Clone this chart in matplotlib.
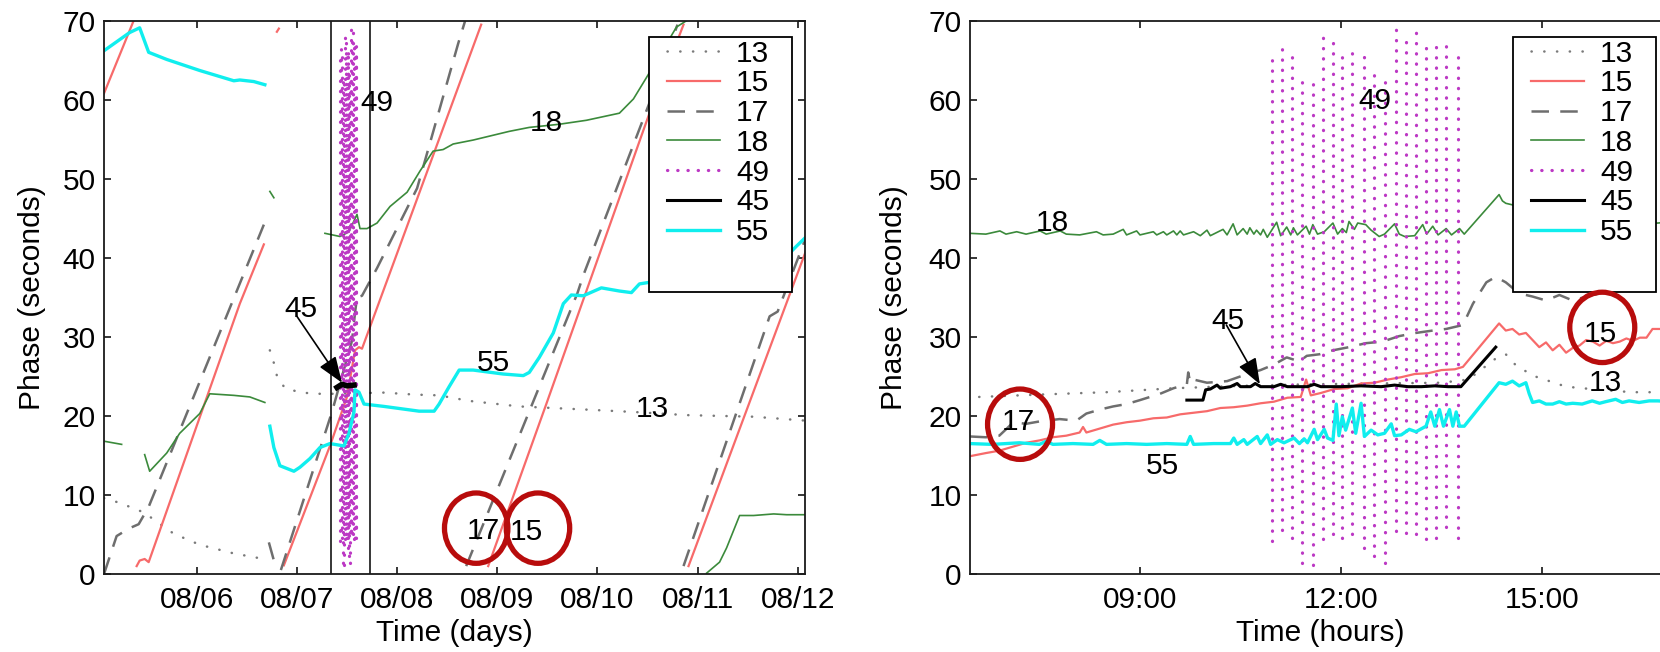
import numpy as np
import matplotlib
matplotlib.use("Agg")
import matplotlib.pyplot as plt
from matplotlib.patches import Ellipse, Rectangle

gap = np.nan

# ---- left panel: time in days of August ----
L13_day = [5.074, 5.23, 5.47, 5.67, 5.77, 6.03, 6.37, 6.67, gap,
           6.73, 6.77, 6.80, 6.88, 7.03, 7.17, 7.37, 7.87, 8.17, 8.42, 8.72,
           9.22, 9.89, 10.36, 10.89, 11.56, 12.08]
L13_val = [9.6, 9.0, 7.8, 6.0, 5.1, 3.7, 2.6, 1.9, gap,
           28.3, 26.7, 25.1, 23.5, 23.0, 22.8, 22.8, 22.95, 22.7, 22.6, 21.9,
           21.2, 20.8, 20.5, 20.1, 19.9, 19.4]

L15_day = [5.074, 5.37, gap, 5.40, 5.43, 5.48, 5.52, 6.43, 6.67, gap,
           6.80, 6.82, gap, 6.87, 7.33, 7.50, 7.58, 7.62, 7.65, 8.84, gap,
           8.91, 9.49, 10.52, 10.86, gap, 10.91, 12.08]
L15_val = [60.8, 70.0, gap, 1.0, 1.7, 1.9, 1.5, 34.2, 41.7, gap,
           68.6, 69.0, gap, 1.1, 16.2, 22.4, 28.3, 28.7, 28.5, 69.5, gap,
           1.0, 21.5, 58.3, 69.5, gap, 1.0, 40.8]

L17_day = [5.074, 5.20, 5.33, 5.42, 5.52, 6.67, gap, 6.72, 6.79, gap,
           6.84, 7.35, 7.55, 7.58, 7.60, 7.65, 7.80, 8.20, 8.27, 8.61, 8.68, gap,
           8.69, 9.80, 9.86, 10.52, 10.80, gap, 10.86, 11.72, 11.80, 12.08]
L17_val = [0.0, 4.8, 5.8, 6.3, 8.5, 44.2, gap, 4.0, 0.8, gap,
           0.5, 20.5, 29.5, 33.0, 35.0, 35.2, 38.7, 48.8, 51.9, 67.1, 70.0, gap,
           1.0, 35.5, 37.8, 59.6, 69.5, gap, 1.0, 32.6, 33.2, 42.5]

L18_day = [5.074, 5.25, gap, 5.48, 5.53, 5.70, 5.83, 6.03, 6.13, 6.37, 6.53, 6.68, gap,
           6.73, 6.77, gap,
           7.28, 7.43, 7.52, 7.60, 7.63, 7.70, 7.80, 7.93, 8.10, 8.23, 8.36, 8.46,
           8.56, 8.76, 9.12, 9.32, 9.62, 9.89, 10.22, 10.36, 10.49, 10.79, 10.89, gap,
           11.09, 11.22, 11.29, 11.42, 11.56, 11.76, 11.89, 12.08]
L18_val = [16.8, 16.4, gap, 15.1, 13.0, 15.3, 17.8, 20.3, 22.8, 22.6, 22.4, 21.7, gap,
           48.4, 47.6, gap,
           43.1, 42.7, 43.3, 45.5, 43.7, 43.7, 44.4, 46.5, 48.3, 51.0, 53.5, 53.7,
           54.4, 54.9, 56.0, 56.5, 56.9, 57.4, 58.3, 60.1, 62.8, 69.2, 70.0, gap,
           0.1, 1.5, 3.3, 7.4, 7.4, 7.6, 7.5, 7.5]

# station 49: columns of dots (same samples as the right panel)
L49_day = [7.435, 7.444, 7.453, 7.462, 7.471, 7.480, 7.489, 7.498, 7.507, 7.515,
           7.524, 7.533, 7.542, 7.551, 7.560, 7.569, 7.578, 7.587, 7.595]

L45_day = [7.40, 7.45, 7.50, 7.57]
L45_val = [23.6, 24.0, 23.8, 23.9]

L55_day = [5.074, 5.33, 5.43, 5.52, 5.70, 6.03, 6.37, 6.43, 6.57, 6.68, gap,
           6.73, 6.77, 6.83, 6.97, 7.03, 7.13, 7.23, 7.33, 7.47, 7.52, 7.57, 7.58,
           7.62, 7.67, 7.87, 8.22, 8.37, 8.42, 8.52, 8.62, 8.76, 9.06, 9.26, 9.32,
           9.42, 9.56, 9.66, 9.74, 9.86, 10.04, 10.22, 10.34, 10.42, 10.52, 11.00,
           11.92, 11.99, 12.08]
L55_val = [66.2, 68.5, 69.1, 66.0, 65.1, 63.7, 62.4, 62.5, 62.3, 61.9, gap,
           18.7, 16.0, 13.7, 13.0, 13.5, 14.6, 16.0, 16.5, 16.2, 17.8, 20.5, 23.3,
           23.0, 21.5, 21.2, 20.6, 20.6, 21.5, 23.7, 25.8, 25.8, 25.3, 25.1, 25.5,
           27.4, 30.5, 34.2, 35.3, 35.2, 36.2, 35.8, 35.6, 36.7, 36.9, 38.5,
           40.6, 41.5, 42.6]

window_days = [7.343, 7.733]
day_ticks = [6, 7, 8, 9, 10, 11, 12]
day_labels = ["08/06", "08/07", "08/08", "08/09", "08/10", "08/11", "08/12"]

# ---- right panel: time in hours ----
R13_hour = [6.6, 7.5, 8.5, 9.5, 10.5, 11.5, 12.5, 13.5, 13.9, 14.3, 14.46, 14.6,
            14.86, 15.36, 15.86, 16.35, 16.95]
R13_val = [22.4, 22.7, 23.0, 23.5, 23.8, 24.0, 24.1, 24.2, 24.6, 27.2, 27.8, 26.5,
           25.1, 23.7, 23.3, 23.0, 23.0]

R15_hour = [6.46, 6.7, 6.9, 7.1, 7.3, 7.5, 7.7, 7.9, 8.1, 8.15, 8.2, 8.4, 8.6, 8.8,
            9.0, 9.2, 9.4, 9.6, 9.8, 10.0, 10.2, 10.4, 10.6, 10.8, 11.0, 11.2, 11.4,
            11.48, 11.55, 11.7, 11.9, 12.1, 12.3, 12.5, 12.7, 12.9, 13.1, 13.3, 13.5,
            13.7, 13.82, 14.36, 14.46, 14.56, 14.66, 14.76, 14.86, 14.96, 15.06,
            15.16, 15.26, 15.36, 15.46, 15.56, 15.66, 15.76, 15.86, 15.96, 16.06,
            16.16, 16.26, 16.36, 16.46, 16.56, 16.65, 16.8, 16.95]
R15_val = [14.9, 15.3, 15.6, 16.1, 16.6, 16.9, 17.3, 17.5, 17.9, 18.6, 17.9, 18.4,
           18.9, 19.2, 19.4, 19.7, 19.8, 20.2, 20.4, 20.6, 21.0, 21.1, 21.3, 21.6,
           21.8, 22.3, 22.4, 24.6, 22.6, 22.9, 23.4, 23.5, 24.1, 24.2, 24.6, 24.9,
           25.3, 25.4, 25.8, 25.9, 26.2, 31.7, 30.8, 31.0, 30.3, 30.5, 29.6, 28.7,
           29.3, 28.3, 29.0, 28.0, 28.6, 28.9, 29.6, 29.4, 28.9, 29.5, 29.2, 29.4,
           29.8, 29.5, 29.9, 29.9, 31.0, 31.0, 30.8]

R17_hour = [6.46, 6.7, 6.9, 7.0, 7.11, 7.3, 7.5, 7.8, 8.05, 8.2, 8.4, 8.6, 8.8, 9.0,
            9.3, 9.5, 9.7, 9.72, 9.75, 9.8, 10.0, 10.3, 10.6, 10.8, 11.0, 11.19,
            11.38, 11.49, 11.68, 11.88, 12.12, 12.37, 12.62, 12.87, 13.12, 13.37,
            13.57, 13.82, 13.97, 14.17, 14.31, 14.46, 14.66, 14.86, 15.06, 15.26,
            15.46, 15.66, 15.86, 16.1, 16.4, 16.7, 16.95]
R17_val = [17.4, 17.3, 17.5, 18.3, 19.2, 19.0, 19.3, 19.6, 19.4, 20.3, 20.8, 21.2,
           21.5, 22.0, 22.8, 23.5, 24.0, 25.5, 24.2, 24.6, 24.2, 24.4, 25.3, 25.8,
           26.5, 27.4, 26.9, 27.6, 27.8, 28.3, 28.7, 29.2, 29.4, 30.1, 30.5, 30.8,
           31.0, 31.5, 34.2, 36.9, 37.6, 36.9, 35.5, 35.1, 34.6, 35.3, 34.6, 35.1,
           35.5, 35.8, 36.5, 37.4, 37.8]

R18_hour = [6.46, 6.7, 6.91, 7.0, 7.16, 7.3, 7.51, 7.6, 7.81, 7.9, 8.1, 8.35, 8.45,
            8.6, 8.75, 8.8, 8.95, 9.0, 9.2, 9.25, 9.35, 9.4, 9.5, 9.55, 9.6, 9.65,
            9.8, 9.9, 10.0, 10.05, 10.24, 10.3, 10.39, 10.45, 10.54, 10.6, 10.64,
            10.7, 10.74, 10.8, 10.84, 10.9, 11.04, 11.1, 11.19, 11.25, 11.29, 11.35,
            11.48, 11.53, 11.58, 11.65, 11.75, 11.88, 11.95, 12.02, 12.08, 12.12,
            12.2, 12.25, 12.37, 12.45, 12.57, 12.65, 12.8, 12.87, 12.95, 13.1, 13.22,
            13.28, 13.37, 13.45, 13.57, 13.65, 13.77, 13.84, 14.36, 14.41, 14.46,
            14.56, 14.8, 15.2, 15.6, 16.0, 16.4, 16.73, 16.95]
R18_val = [43.1, 43.0, 43.4, 43.0, 43.3, 43.0, 43.4, 43.0, 43.4, 43.0, 42.9, 43.3,
           42.9, 43.0, 43.6, 42.9, 43.4, 42.9, 43.3, 42.9, 43.3, 42.9, 43.4, 42.9,
           43.4, 42.9, 43.3, 42.8, 43.5, 42.8, 43.6, 42.9, 44.3, 42.9, 43.7, 43.0,
           43.8, 43.0, 43.5, 42.9, 43.6, 42.6, 44.5, 42.8, 43.9, 42.9, 43.8, 42.9,
           44.0, 43.0, 44.2, 43.0, 43.3, 44.4, 43.0, 43.7, 43.2, 44.6, 43.6, 44.4,
           44.2, 43.5, 42.7, 43.0, 44.3, 43.0, 42.7, 42.8, 44.2, 43.0, 44.0, 42.9,
           43.7, 42.9, 43.7, 43.0, 48.0, 47.2, 46.9, 46.7, 45.5, 44.8, 44.6, 44.5,
           44.4, 44.4, 44.6]

R49_hour = [10.97, 11.12, 11.27, 11.42, 11.58, 11.73, 11.88, 12.02, 12.17, 12.35,
            12.50, 12.65, 12.82, 12.97, 13.12, 13.27, 13.42, 13.57, 13.74]
R49_low = [4.2, 5.6, 4.5, 1.4, 1.2, 4.4, 5.0, 4.6, 5.0, 3.3,
           2.3, 1.4, 5.5, 5.2, 5.0, 4.4, 4.6, 6.0, 4.6]
R49_high = [65.3, 67.3, 66.3, 63.4, 62.5, 69.1, 67.3, 66.3, 65.9, 65.5,
            63.5, 63.4, 69.5, 68.4, 68.8, 67.6, 66.9, 67.6, 66.3]

R45_hour = [9.70, 9.94, 9.98, 10.05, 10.15, 10.2, 10.35, 10.45, 10.5, 10.65, 10.72,
            10.8, 11.0, 11.1, 11.2, 11.5, 11.6, 11.7, 12.0, 12.3, 12.6, 12.8, 13.0,
            13.2, 13.4, 13.6, 13.79, 14.31]
R45_val = [22.0, 22.0, 23.3, 23.4, 23.9, 23.5, 23.7, 24.1, 23.7, 23.7, 24.1,
           23.7, 23.7, 24.0, 23.7, 23.7, 24.0, 23.7, 23.7, 23.8, 23.7, 23.9, 23.7,
           23.7, 23.8, 23.7, 23.7, 28.7]

R55_hour = [6.46, 6.8, 7.2, 7.5, 7.6, 7.7, 8.0, 8.3, 8.4, 8.5, 8.8, 9.1, 9.4, 9.7,
            9.75, 9.8, 10.1, 10.35, 10.4, 10.45, 10.55, 10.6, 10.75, 10.8, 10.9,
            10.95, 11.05, 11.15, 11.3, 11.38, 11.45, 11.5, 11.6, 11.65, 11.75, 11.8,
            11.88, 11.93, 11.97, 12.02, 12.07, 12.17, 12.22, 12.3, 12.35, 12.45,
            12.55, 12.65, 12.75, 12.8, 12.9, 13.02, 13.12, 13.27, 13.34, 13.4, 13.47,
            13.53, 13.62, 13.67, 13.72, 13.77, 13.84, 14.36, 14.46, 14.56, 14.66,
            14.76, 14.81, 14.86, 14.96, 15.06, 15.16, 15.26, 15.36, 15.46, 15.6,
            15.75, 15.86, 15.95, 16.1, 16.2, 16.3, 16.45, 16.6, 16.73, 16.95]
R55_val = [16.5, 16.4, 16.6, 16.4, 16.8, 16.4, 16.5, 16.4, 16.9, 16.4, 16.5, 16.4,
           16.5, 16.4, 17.4, 16.4, 16.5, 16.5, 17.2, 16.4, 17.0, 16.4, 17.4, 16.5,
           17.6, 16.4, 17.0, 16.6, 17.2, 16.5, 17.1, 16.6, 18.3, 17.0, 18.3, 17.2,
           16.9, 21.5, 17.5, 19.9, 18.2, 21.0, 17.8, 21.6, 17.4, 18.2, 17.6, 17.8,
           19.0, 17.5, 17.6, 18.3, 18.0, 18.7, 20.5, 18.7, 20.8, 18.7, 20.8, 18.7,
           20.5, 18.7, 18.7, 24.2, 24.0, 24.4, 23.8, 24.2, 22.8, 21.7, 21.9, 21.5,
           21.5, 21.8, 21.5, 21.6, 21.5, 21.9, 21.6, 21.8, 22.1, 21.7, 21.9, 21.7,
           21.9, 21.9, 21.8]

hour_ticks = [9, 12, 15]
hour_labels = ["09:00", "12:00", "15:00"]

names = ["13", "15", "17", "18", "49", "45", "55"]
styles = {
    "13": dict(color="#7a7a7a", lw=1.8, ls=(0, (0.1, 5.0))),
    "15": dict(color="#f76a6a", lw=1.6, ls="-"),
    "17": dict(color="#6e6e6e", lw=1.8, ls=(0, (7, 4.5))),
    "18": dict(color="#3b8a3b", lw=1.2, ls="-"),
    "49": dict(color="#bc38c4", lw=2.3, ls=(0, (0.1, 3.1))),
    "45": dict(color="black", lw=2.2, ls="-"),
    "55": dict(color="#10eeee", lw=2.4, ls="-"),
}

plt.rcParams["font.family"] = ["Liberation Sans", "DejaVu Sans"]
plt.rcParams["font.size"] = 21.5
FS = 21.5
RING = "#b80c0c"

fig = plt.figure(figsize=(16.6, 6.52), dpi=100)
ax1 = fig.add_axes([104 / 1660, 78 / 652, 701 / 1660, 553.3 / 652])
ax2 = fig.add_axes([970 / 1660, 78 / 652, 701 / 1660, 553.3 / 652])

left = {"13": (L13_day, L13_val), "15": (L15_day, L15_val), "17": (L17_day, L17_val),
        "18": (L18_day, L18_val), "49": (L49_day, R49_low, R49_high),
        "45": (L45_day, L45_val), "55": (L55_day, L55_val)}
right = {"13": (R13_hour, R13_val), "15": (R15_hour, R15_val), "17": (R17_hour, R17_val),
         "18": (R18_hour, R18_val), "49": (R49_hour, R49_low, R49_high),
         "45": (R45_hour, R45_val), "55": (R55_hour, R55_val)}


def draw(ax, series, thick45=False):
    handles = []
    for n in names:
        st = styles[n]
        round_caps = n in ("13", "49")
        if n == "49":
            x, lo, hi = series[n]
            ax.vlines(x, lo, hi, colors=st["color"], linewidths=st["lw"],
                      linestyles=[st["ls"]], capstyle="round")
            h, = ax.plot([], [], color=st["color"], lw=st["lw"], ls=st["ls"],
                         dash_capstyle="round", label=n)
        else:
            x, y = series[n]
            lw = 4.0 if (n == "45" and thick45) else st["lw"]
            h, = ax.plot(x, y, color=st["color"], lw=lw, ls=st["ls"], label=n,
                         dash_capstyle="round" if round_caps else "butt")
        handles.append(h)
    return handles


def legend_box(ax, handles, x_handle, x_box):
    ax.add_patch(Rectangle((x_box, 0.510), 0.204, 0.461, transform=ax.transAxes,
                           facecolor="white", edgecolor="black", lw=1.3, zorder=5))
    leg = ax.legend(handles=handles, loc="upper left", bbox_to_anchor=(x_handle, 0.966),
                    bbox_transform=ax.transAxes, frameon=False, borderpad=0,
                    borderaxespad=0, handlelength=1.77, handletextpad=0.55,
                    labelspacing=0.06, fontsize=FS)
    leg.set_zorder(6)
    # keep the legend key for 45 at its normal width
    leg.legend_handles[names.index("45")].set_linewidth(styles["45"]["lw"])


def frame(ax, ypad):
    ax.set_ylim(0, 70)
    ax.set_yticks(range(0, 71, 10))
    ax.tick_params(direction="in", length=5, width=1.1, top=True, right=True, labelsize=FS)
    ax.tick_params(axis="x", pad=9)
    ax.tick_params(axis="y", pad=6)
    for s in ax.spines.values():
        s.set_linewidth(1.3)
        s.set_color("#1a1a1a")
    ax.set_ylabel("Phase (seconds)", fontsize=FS, labelpad=ypad)


# left panel
h1 = draw(ax1, left, thick45=True)
for d in window_days:
    ax1.axvline(d, color="black", lw=1.1)
ax1.set_xlim(5.074, 12.073)
ax1.set_xticks(day_ticks)
ax1.set_xticklabels(day_labels)
ax1.set_xlabel("Time (days)", fontsize=FS, labelpad=3)
frame(ax1, 12)
legend_box(ax1, h1, 0.803, 0.777)

for txt, x, y in [("49", 7.80, 60.0), ("45", 7.04, 33.9), ("18", 9.49, 57.4),
                  ("55", 8.96, 27.1), ("13", 10.55, 21.2), ("17", 8.86, 5.8),
                  ("15", 9.29, 5.7)]:
    ax1.text(x, y, txt, ha="center", va="center_baseline", fontsize=FS, zorder=8)
ax1.annotate("", xy=(7.45, 24.2), xytext=(7.0, 32.6),
             arrowprops=dict(arrowstyle="-|>,head_length=0.8,head_width=0.3",
                             color="black", lw=1.2, mutation_scale=20,
                             shrinkA=0, shrinkB=0))
for cx in (8.79, 9.407):
    ax1.add_patch(Ellipse((cx, 5.8), 0.633, 8.9, fill=False, ec=RING, lw=3.8, zorder=9))

# right panel
h2 = draw(ax2, right)
ax2.set_xlim(6.463, 16.926)
ax2.set_xticks(hour_ticks)
ax2.set_xticklabels(hour_labels)
ax2.set_xlabel("Time (hours)", fontsize=FS, labelpad=3)
frame(ax2, 15)
legend_box(ax2, h2, 0.800, 0.775)

for txt, x, y in [("18", 7.69, 44.8), ("45", 10.32, 32.4), ("55", 9.33, 14.0),
                  ("17", 7.18, 19.6), ("49", 12.51, 60.2), ("15", 15.87, 30.8),
                  ("13", 15.94, 24.5)]:
    ax2.text(x, y, txt, ha="center", va="center_baseline", fontsize=FS, zorder=8)
ax2.annotate("", xy=(10.79, 24.0), xytext=(10.29, 31.5),
             arrowprops=dict(arrowstyle="-|>,head_length=0.8,head_width=0.3",
                             color="black", lw=1.2, mutation_scale=20,
                             shrinkA=0, shrinkB=0))
ax2.add_patch(Ellipse((7.21, 18.95), 0.97, 8.9, fill=False, ec=RING, lw=3.8, zorder=9))
ax2.add_patch(Ellipse((15.90, 31.2), 0.97, 8.9, fill=False, ec=RING, lw=3.8, zorder=9))

fig.savefig("out.png", dpi=100)
